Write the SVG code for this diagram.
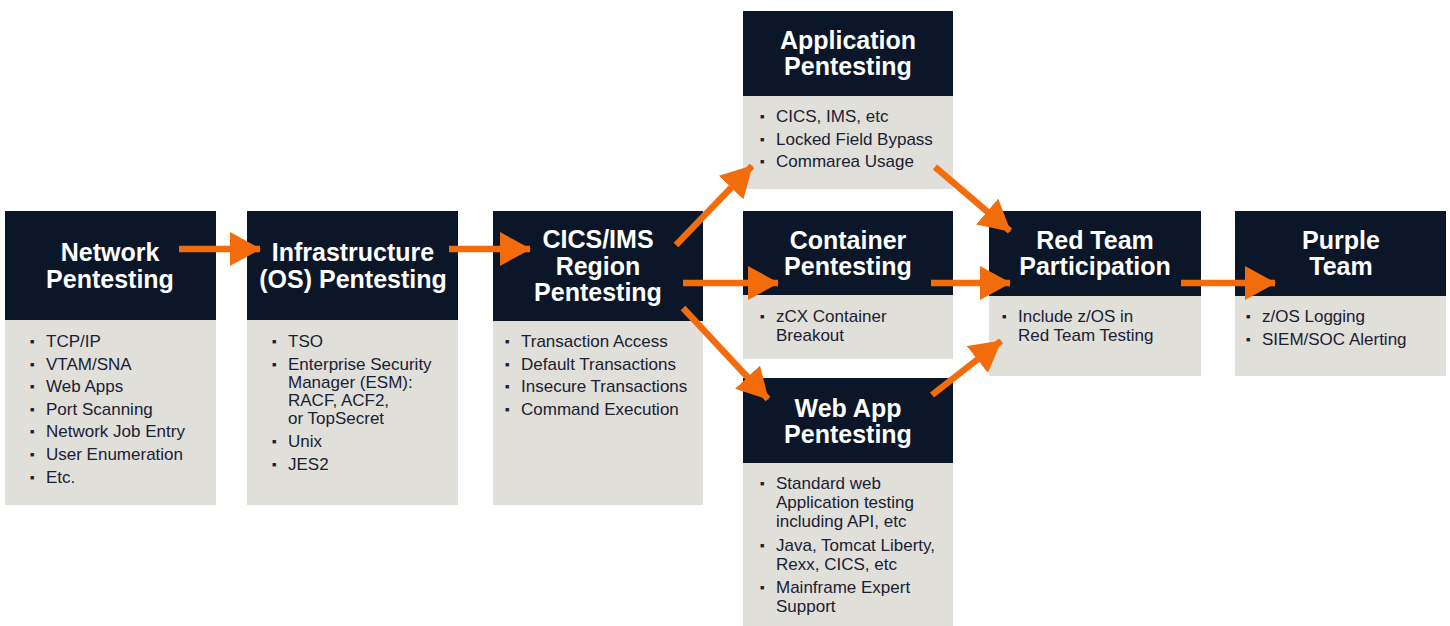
<svg xmlns="http://www.w3.org/2000/svg" width="1450" height="626" viewBox="0 0 1450 626">
<defs>
<style>
.hd{fill:#0b1629}
.bd{fill:#e0dfda}
.ht{fill:#ffffff;font-family:"Liberation Sans",Arial,sans-serif;font-weight:bold;font-size:25px;text-anchor:middle}
.bt{fill:#1a2133;font-family:"Liberation Sans",Arial,sans-serif;font-size:17px}
.bl{fill:#1a2133;font-family:"Liberation Sans",Arial,sans-serif;font-size:7px}
.ar{stroke:#f26c0c;stroke-width:6.5;fill:none}
</style>
<marker id="ah" markerUnits="userSpaceOnUse" markerWidth="32" markerHeight="34" refX="30" refY="17" orient="auto" viewBox="0 0 32 34">
<path d="M0,0 L31,17 L0,34 Z" fill="#f26c0c"/>
</marker>
</defs>
<rect width="1450" height="626" fill="#ffffff"/>

<g id="network">
<rect class="bd" x="5" y="211" width="211" height="294"/>
<rect class="hd" x="5" y="211" width="211" height="109"/>
<text class="ht" x="110" y="261">Network</text>
<text class="ht" x="110" y="288">Pentesting</text>
<text class="bl" x="30" y="344">■</text><text class="bt" x="46" y="347">TCP/IP</text>
<text class="bl" x="30" y="367">■</text><text class="bt" x="46" y="370">VTAM/SNA</text>
<text class="bl" x="30" y="389">■</text><text class="bt" x="46" y="392">Web Apps</text>
<text class="bl" x="30" y="412">■</text><text class="bt" x="46" y="415">Port Scanning</text>
<text class="bl" x="30" y="434">■</text><text class="bt" x="46" y="437">Network Job Entry</text>
<text class="bl" x="30" y="457">■</text><text class="bt" x="46" y="460">User Enumeration</text>
<text class="bl" x="30" y="480">■</text><text class="bt" x="46" y="483">Etc.</text>
</g>

<g id="infra">
<rect class="bd" x="247" y="211" width="211" height="294"/>
<rect class="hd" x="247" y="211" width="211" height="109"/>
<text class="ht" x="353" y="261">Infrastructure</text>
<text class="ht" x="353" y="288">(OS) Pentesting</text>
<text class="bl" x="272" y="344">■</text><text class="bt" x="288" y="347">TSO</text>
<text class="bl" x="272" y="367">■</text><text class="bt" x="288" y="370">Enterprise Security</text>
<text class="bt" x="288" y="388">Manager (ESM):</text>
<text class="bt" x="288" y="406">RACF, ACF2,</text>
<text class="bt" x="288" y="424">or TopSecret</text>
<text class="bl" x="272" y="444">■</text><text class="bt" x="288" y="447">Unix</text>
<text class="bl" x="272" y="467">■</text><text class="bt" x="288" y="470">JES2</text>
</g>

<g id="cics">
<rect class="bd" x="493" y="211" width="210" height="294"/>
<rect class="hd" x="493" y="211" width="210" height="110"/>
<text class="ht" x="598" y="248">CICS/IMS</text>
<text class="ht" x="598" y="275">Region</text>
<text class="ht" x="598" y="301">Pentesting</text>
<text class="bl" x="505" y="344">■</text><text class="bt" x="521" y="347">Transaction Access</text>
<text class="bl" x="505" y="367">■</text><text class="bt" x="521" y="370">Default Transactions</text>
<text class="bl" x="505" y="389">■</text><text class="bt" x="521" y="392">Insecure Transactions</text>
<text class="bl" x="505" y="412">■</text><text class="bt" x="521" y="415">Command Execution</text>
</g>

<g id="application">
<rect class="bd" x="743" y="11" width="210" height="178"/>
<rect class="hd" x="743" y="11" width="210" height="85"/>
<text class="ht" x="848" y="49">Application</text>
<text class="ht" x="848" y="75">Pentesting</text>
<text class="bl" x="760" y="119">■</text><text class="bt" x="776" y="122">CICS, IMS, etc</text>
<text class="bl" x="760" y="142">■</text><text class="bt" x="776" y="145">Locked Field Bypass</text>
<text class="bl" x="760" y="164">■</text><text class="bt" x="776" y="167">Commarea Usage</text>
</g>

<g id="container">
<rect class="bd" x="743" y="211" width="210" height="148"/>
<rect class="hd" x="743" y="211" width="210" height="84"/>
<text class="ht" x="848" y="249">Container</text>
<text class="ht" x="848" y="275">Pentesting</text>
<text class="bl" x="760" y="319">■</text><text class="bt" x="776" y="322">zCX Container</text>
<text class="bt" x="776" y="341">Breakout</text>
</g>

<g id="webapp">
<rect class="bd" x="743" y="378" width="210" height="248"/>
<rect class="hd" x="743" y="378" width="210" height="85"/>
<text class="ht" x="848" y="417">Web App</text>
<text class="ht" x="848" y="443">Pentesting</text>
<text class="bl" x="760" y="486">■</text><text class="bt" x="776" y="489">Standard web</text>
<text class="bt" x="776" y="508">Application testing</text>
<text class="bt" x="776" y="527">including API, etc</text>
<text class="bl" x="760" y="548">■</text><text class="bt" x="776" y="551">Java, Tomcat Liberty,</text>
<text class="bt" x="776" y="570">Rexx, CICS, etc</text>
<text class="bl" x="760" y="590">■</text><text class="bt" x="776" y="593">Mainframe Expert</text>
<text class="bt" x="776" y="612">Support</text>
</g>

<g id="redteam">
<rect class="bd" x="989" y="211" width="212" height="165"/>
<rect class="hd" x="989" y="211" width="212" height="85"/>
<text class="ht" x="1095" y="249">Red Team</text>
<text class="ht" x="1095" y="275">Participation</text>
<text class="bl" x="1002" y="319">■</text><text class="bt" x="1018" y="322">Include z/OS in</text>
<text class="bt" x="1018" y="341">Red Team Testing</text>
</g>

<g id="purple">
<rect class="bd" x="1235" y="211" width="211" height="165"/>
<rect class="hd" x="1235" y="211" width="211" height="85"/>
<text class="ht" x="1341" y="249">Purple</text>
<text class="ht" x="1341" y="275">Team</text>
<text class="bl" x="1246" y="319">■</text><text class="bt" x="1262" y="322">z/OS Logging</text>
<text class="bl" x="1246" y="342">■</text><text class="bt" x="1262" y="345">SIEM/SOC Alerting</text>
</g>

<g id="connectors">
<line class="ar" x1="179" y1="249" x2="260" y2="249" marker-end="url(#ah)"/>
<line class="ar" x1="449" y1="249" x2="530" y2="249" marker-end="url(#ah)"/>
<line class="ar" x1="676" y1="245" x2="752" y2="166" marker-end="url(#ah)"/>
<line class="ar" x1="683" y1="283" x2="778" y2="283" marker-end="url(#ah)"/>
<line class="ar" x1="683" y1="308" x2="768" y2="399" marker-end="url(#ah)"/>
<line class="ar" x1="935" y1="167" x2="1010" y2="231" marker-end="url(#ah)"/>
<line class="ar" x1="931" y1="283" x2="1010" y2="283" marker-end="url(#ah)"/>
<line class="ar" x1="932" y1="395" x2="1001" y2="341" marker-end="url(#ah)"/>
<line class="ar" x1="1181" y1="283" x2="1275" y2="283" marker-end="url(#ah)"/>
</g>
</svg>
